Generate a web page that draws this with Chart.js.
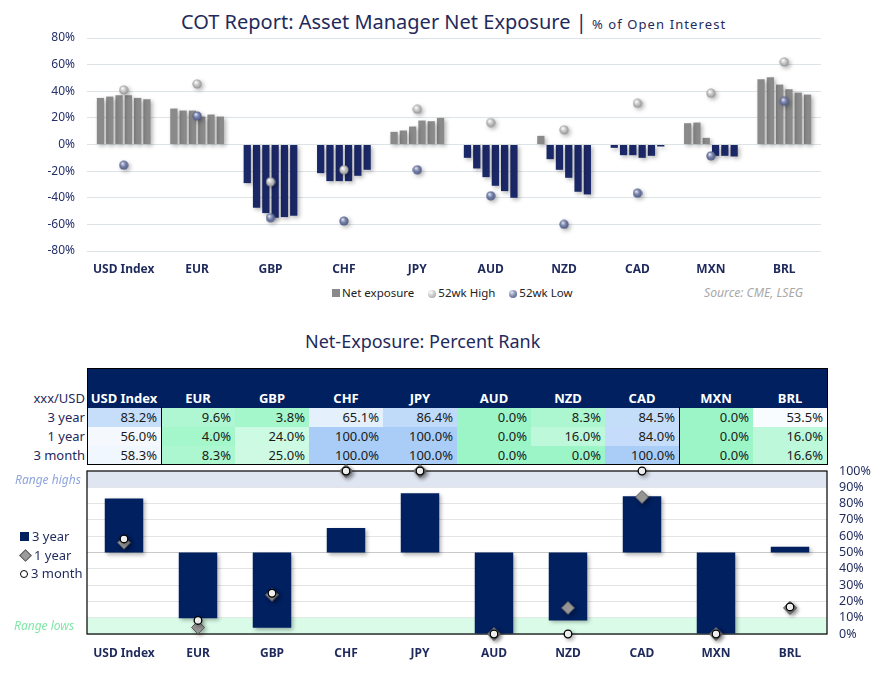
<!DOCTYPE html>
<html>
<head>
<meta charset="utf-8">
<script src="https://cdn.jsdelivr.net/npm/chart.js@4.4.1/dist/chart.umd.min.js"></script>
<style>
  body { margin: 0; width: 889px; height: 676px; position: relative; overflow: hidden; background: #fff; font-family: 'Noto Sans', sans-serif; color: #1f2a5c; }
  .abs { position: absolute; white-space: nowrap; }
  #title { left: 181px; top: 8px; font-size: 20px; color: #1f2a5c; }
  #title .sub { font-size: 13px; letter-spacing: 1.1px; }
  #legendTop { left: 332px; top: 285px; font-size: 11.5px; color: #222; }
  #legendTop span { margin-right: 14px; }
  .sq { display: inline-block; width: 8px; height: 8px; background: #8a8a8a; margin-right: 2px; }
  .ball { display: inline-block; width: 8px; height: 8px; border-radius: 50%; margin-right: 2px; vertical-align: -1px; }
  .ball.hi { background: radial-gradient(circle at 35% 30%, #fff, #c8c8c8 50%, #9a9a9a); }
  .ball.lo { background: radial-gradient(circle at 35% 30%, #e0e4f0, #8089ad 50%, #4f5a84); }
  #source { left: 704px; top: 284px; font-size: 12.2px; font-style: italic; color: #a8a8a8; }
  #title2 { left: 305px; top: 329px; font-size: 18px; color: #1f2a5c; }
  #rank { position: absolute; left: 13px; top: 368px; border-collapse: collapse; table-layout: fixed; font-size: 13px; }
  #rank th, #rank td { padding: 0 4px 0 0; overflow: hidden; }
  #rank th { height: 39px; vertical-align: bottom; padding-bottom: 1px; }
  #rank th.cur { background: #002060; color: #fff; font-weight: bold; text-align: center; padding: 0 0 1px 0; }
  #rank th.lab, #rank td.lab { text-align: right; color: #1f2a5c; font-weight: normal; padding-right: 2px; }
  #rank td { height: 19px; text-align: right; color: #1a1a1a; line-height: 19px; }
  #rankBox { left: 87px; top: 368px; width: 739px; height: 95px; border: 1.5px solid #000; box-sizing: content-box; pointer-events: none; }
  .vline { top: 407px; width: 0; height: 57px; border-left: 1.5px solid #000; }
  .rangeLab { font-size: 12px; font-style: italic; }
  #legendBot { left: 20px; top: 527px; font-size: 13px; color: #1f2a5c; line-height: 18.5px; }
  .dia { display: inline-block; width: 7px; height: 7px; background: #9b9b9b; border: 1px solid #5a5a5a; transform: rotate(45deg); margin: 0 4px 0 1px; }
  .circ { display: inline-block; width: 6px; height: 6px; border-radius: 50%; border: 1.3px solid #000; background: #fff; margin-right: 3px; }
  .sq2 { display: inline-block; width: 9px; height: 9px; background: #002060; margin-right: 3px; }
</style>
</head>
<body>
<div id="title" class="abs">COT Report: Asset Manager Net Exposure | <span class="sub">% of Open Interest</span></div>

<div class="abs" style="left:0;top:30px;width:889px;height:251px;">
  <canvas id="netChart" width="889" height="251"></canvas>
</div>
<div id="legendTop" class="abs"><span><i class="sq"></i>Net exposure</span><span><i class="ball hi"></i>52wk High</span><span><i class="ball lo"></i>52wk Low</span></div>
<div id="source" class="abs">Source: CME, LSEG</div>

<div id="title2" class="abs">Net-Exposure: Percent Rank</div>
<table id="rank"></table>
<div id="rankBox" class="abs"></div>
<div class="abs vline" style="left:160.5px"></div>
<div class="abs vline" style="left:678.5px"></div>

<div class="abs" style="left:0;top:462px;width:889px;height:214px;">
  <canvas id="rankChart" width="889" height="214"></canvas>
</div>
<div class="abs rangeLab" style="left:15px;top:471px;color:#8fa5dc;">Range highs</div>
<div class="abs rangeLab" style="left:14px;top:617px;color:#7fe8a6;">Range lows</div>
<div id="legendBot" class="abs">
  <div><i class="sq2"></i>3 year</div>
  <div><i class="dia"></i>1 year</div>
  <div><i class="circ"></i>3 month</div>
</div>

<script>
const currencies = ['USD Index', 'EUR', 'GBP', 'CHF', 'JPY', 'AUD', 'NZD', 'CAD', 'MXN', 'BRL'];

// net exposure (% of open interest), last six weeks, oldest first
const week1 = [35, 27, -29, -21.5, 9.5, -10, 6.5, -2.5, 16, 49];
const week2 = [36, 25.5, -47.5, -27.5, 10.5, -18, -11, -8, 16.5, 50.5];
const week3 = [37, 25.5, -51.5, -27.5, 13.5, -24.5, -19, -8, 5, 45];
const week4 = [37, 21, -55, -27.5, 18, -31, -25, -10, -8.5, 41.5];
const week5 = [35, 22.5, -54.5, -23.5, 17.5, -35, -35.5, -8.5, -8.5, 39];
const week6 = [34, 21, -53.5, -19, 20, -40, -37.5, -1.5, -9, 37.5];
const high52 = [41, 45.5, -28, -19, 26.5, 16.5, 11, 31, 38.5, 62];
const low52 = [-15.5, 21.5, -55, -57.5, -19, -38.5, -60, -36.5, -8.5, 32.5];

// percent rank of current net exposure
const rank3y = [83.2, 9.6, 3.8, 65.1, 86.4, 0.0, 8.3, 84.5, 0.0, 53.5];
const rank1y = [56.0, 4.0, 24.0, 100.0, 100.0, 0.0, 16.0, 84.0, 0.0, 16.0];
const rank3m = [58.3, 8.3, 25.0, 100.0, 100.0, 0.0, 0.0, 100.0, 0.0, 16.6];
const rankRows = ['3 year', '1 year', '3 month'];

const NAVY = '#1f2a5c';
Chart.defaults.font.family = "'Noto Sans', sans-serif";
Chart.defaults.color = NAVY;

const shadows = {
    id: 'shadows',
    beforeDatasetDraw(chart) {
        const c = chart.ctx;
        c.save();
        c.shadowColor = 'rgba(0,0,0,0.3)';
        c.shadowBlur = 4;
        c.shadowOffsetX = 2;
        c.shadowOffsetY = 2;
    },
    afterDatasetDraw(chart) {
        chart.ctx.restore();
    }
};

function sphere(light, mid, dark) {
    const c = document.createElement('canvas');
    c.width = c.height = 10;
    const g = c.getContext('2d');
    const grad = g.createRadialGradient(3.6, 3.2, 0.3, 5, 5, 5);
    grad.addColorStop(0, light);
    grad.addColorStop(0.45, mid);
    grad.addColorStop(1, dark);
    g.fillStyle = grad;
    g.beginPath();
    g.arc(5, 5, 4.6, 0, Math.PI * 2);
    g.fill();
    return c;
}

// pin the plot area: no extra room for half tick labels
function pinY(width) {
    return s => {
        s.width = width;
        s.paddingTop = 0;
        s.paddingBottom = 0;
    };
}

// top chart
const weeks = [week1, week2, week3, week4, week5, week6];
const netSets = weeks.map(w => ({
    type: 'bar',
    label: 'Net exposure',
    data: w,
    backgroundColor: ctx => ctx.raw < 0 ? '#1b2867' : '#8a8a8a',
    categoryPercentage: 0.76,
    barPercentage: 0.78,
    order: 2
}));

new Chart(document.getElementById('netChart'), {
    data: {
        labels: currencies,
        datasets: [
            ...netSets,
            { type: 'line', label: '52wk High', data: high52, showLine: false, pointStyle: sphere('#ffffff', '#c9c9c9', '#8c8c8c'), order: 0, clip: false },
            { type: 'line', label: '52wk Low', data: low52, showLine: false, pointStyle: sphere('#e4e7f2', '#7b86ae', '#46527e'), order: 1, clip: false }
        ]
    },
    options: {
        responsive: false,
        animation: false,
        layout: { padding: { left: 0, right: 68, top: 8, bottom: 0 } },
        plugins: { legend: { display: false }, tooltip: { enabled: false } },
        scales: {
            x: {
                grid: { display: false, drawTicks: false },
                border: { display: false },
                ticks: { font: { size: 12, weight: 'bold' }, color: NAVY, padding: 11 },
                afterFit: s => { s.height = 30; }
            },
            y: {
                min: -80, max: 80,
                grid: { color: '#dde4e8', drawTicks: false },
                border: { display: false },
                ticks: { stepSize: 20, autoSkip: false, padding: 12, font: { size: 12 }, color: '#25306a', callback: v => v + '%' },
                afterFit: pinY(87)
            }
        }
    },
    plugins: [shadows]
});

// percent-rank table
function heat(v) {
    const lo = [156, 245, 199], hi = [169, 205, 247];
    const t = Math.abs(v - 50) / 50;
    const c = v < 50 ? lo : hi;
    return 'rgb(' + c.map(k => Math.round(255 - t * (255 - k))).join(',') + ')';
}
const table = document.getElementById('rank');
let html = '<colgroup><col style="width:74px">' + currencies.map(() => '<col style="width:74px">').join('') + '</colgroup>';
html += '<tr><th class="lab">xxx/USD</th>' + currencies.map(c => '<th class="cur">' + c + '</th>').join('') + '</tr>';
[rank3y, rank1y, rank3m].forEach((row, r) => {
    html += '<tr><td class="lab">' + rankRows[r] + '</td>' +
        row.map(v => '<td style="background:' + heat(v) + '">' + v.toFixed(1) + '%</td>').join('') + '</tr>';
});
table.innerHTML = html;

// percent-rank chart
const rankBands = {
    id: 'rankBands',
    beforeDatasetsDraw(chart) {
        const { ctx, chartArea: a, scales: { y } } = chart;
        ctx.save();
        ctx.fillStyle = '#dfe5f1';
        ctx.fillRect(a.left, y.getPixelForValue(100), a.width, y.getPixelForValue(90) - y.getPixelForValue(100));
        ctx.fillStyle = '#d9fbe8';
        ctx.fillRect(a.left, y.getPixelForValue(10), a.width, y.getPixelForValue(0) - y.getPixelForValue(10));
        ctx.strokeStyle = '#000';
        ctx.lineWidth = 1.2;
        ctx.strokeRect(a.left, a.top, a.width, a.height);
        ctx.restore();
    }
};

new Chart(document.getElementById('rankChart'), {
    data: {
        labels: currencies,
        datasets: [
            { type: 'bar', label: '3 year', data: rank3y.map(v => [50, v]), backgroundColor: '#002060', categoryPercentage: 1, barPercentage: 0.52, order: 3 },
            { type: 'line', label: '1 year', data: rank1y, showLine: false, pointStyle: 'rectRot', pointRadius: 6.5,
              pointBackgroundColor: '#9b9b9b', pointBorderColor: '#5a5a5a', pointBorderWidth: 1, order: 2, clip: false },
            { type: 'line', label: '3 month', data: rank3m, showLine: false, pointStyle: 'circle', pointRadius: 3.8,
              pointBackgroundColor: '#ffffff', pointBorderColor: '#000000', pointBorderWidth: 1.3, order: 1, clip: false }
        ]
    },
    options: {
        responsive: false,
        animation: false,
        layout: { padding: { left: 87, right: 0, top: 9, bottom: 0 } },
        plugins: { legend: { display: false }, tooltip: { enabled: false } },
        scales: {
            x: {
                grid: { display: false, drawTicks: false },
                border: { display: false },
                ticks: { font: { size: 12, weight: 'bold' }, color: NAVY, padding: 12 },
                afterFit: s => { s.height = 42; }
            },
            y: {
                position: 'right',
                min: 0, max: 100,
                grid: { color: ctx => ctx.tick && ctx.tick.value === 50 ? '#c9c9c9' : '#e4e4e4', drawTicks: false },
                border: { display: false },
                ticks: { stepSize: 10, autoSkip: false, padding: 12, font: { size: 12.5 }, color: NAVY, callback: v => v + '%' },
                afterFit: pinY(62)
            }
        }
    },
    plugins: [rankBands, shadows]
});
</script>
</body>
</html>
